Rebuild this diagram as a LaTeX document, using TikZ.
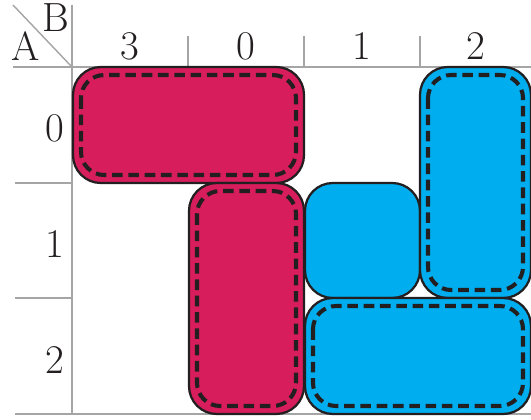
\documentclass[tikz,border=0pt]{standalone}
\usepackage{tikz}
\usetikzlibrary{calc}
\definecolor{blockred}{RGB}{216, 29, 92}
\definecolor{blockblue}{RGB}{0, 174, 239}
\definecolor{edgedark}{RGB}{35, 31, 32}
\definecolor{gridgray}{RGB}{165, 165, 165}

\begin{document}
\begin{tikzpicture}[x=0.01724cm, y=-0.01724cm,
    every node/.style={font=\fontsize{20}{24}\selectfont, text=edgedark},
    gridline/.style={gridgray, line width=0.7pt},
    redblock/.style={fill=blockred, draw=edgedark, line width=1.1pt, rounded corners=0.48cm},
    blueblock/.style={fill=blockblue, draw=edgedark, line width=1.1pt, rounded corners=0.48cm},
    innerdash/.style={draw=edgedark, line width=2pt, dash pattern=on 5.2pt off 2.8pt, rounded corners=0.4cm}]
    \useasboundingbox (0,0) rectangle (531,419);

    % Grid
    \draw[gridline] (13,5) -- (72,67);
    \draw[gridline] (72,5) -- (72,414);
    \draw[gridline] (13,67) -- (531,67);
    \draw[gridline] (15,183) -- (72,183);
    \draw[gridline] (15,298) -- (72,298);
    \draw[gridline] (15,414) -- (531,414);
    \foreach \x in {188,304,420} {
        \draw[gridline] (\x,36) -- (\x,67);
    }

    % Header labels
    \node (a) at (26,46) {A};
    \node (b) at (56,18) {B};
    \node (c3) at (130,46) {3};
    \node (c0) at (246,46) {0};
    \node (c1) at (362,46) {1};
    \node (c2) at (476,46) {2};
    \node (r0) at (55,128) {0};
    \node (r1) at (55,244) {1};
    \node (r2) at (55,360) {2};

    % Red blocks
    \draw[redblock] (73,67) rectangle (304,183);
    \draw[innerdash] (81,75) rectangle (296,175);
    \draw[redblock] (189,183) rectangle (304,414);
    \draw[innerdash] (197,191) rectangle (296,406);

    % Blue blocks
    \draw[blueblock] (305,183) rectangle (420,298);
    \draw[blueblock] (420,67) rectangle (531,298);
    \draw[innerdash] (428,75) rectangle (523,290);
    \draw[blueblock] (305,298) rectangle (531,414);
    \draw[innerdash] (313,306) rectangle (523,406);
\end{tikzpicture}
\end{document}
